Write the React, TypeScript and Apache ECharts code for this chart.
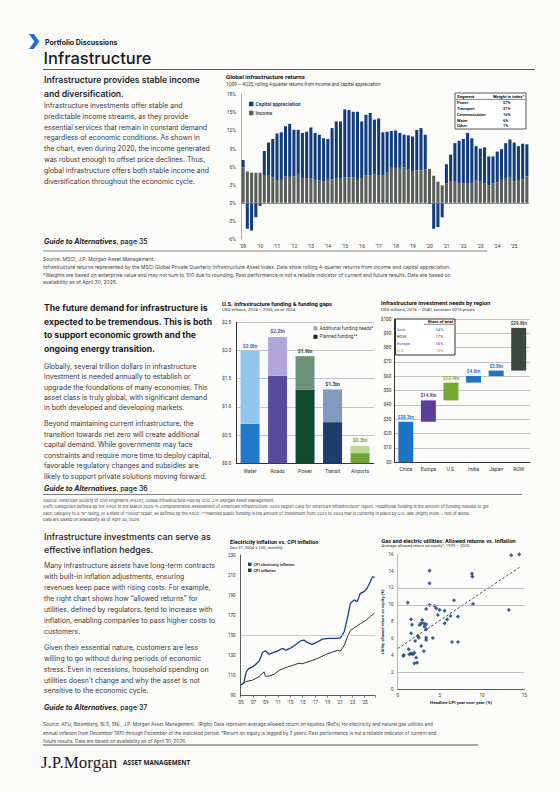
import React, { useEffect, useRef } from 'react';
import * as echarts from 'echarts';

const SANS = 'Inter, "Noto Sans", Arial, sans-serif';
const CH = 'Roboto, "Noto Sans", Arial, sans-serif';
const SERIF = '"Liberation Serif", "DejaVu Serif", serif';

// ---------- Global infrastructure returns (1Q09 - 4Q25) ----------
const returnYears = [2009, 2010, 2011, 2012, 2013, 2014, 2015, 2016, 2017, 2018, 2019, 2020, 2021, 2022, 2023, 2024, 2025];
const quarterCats: string[] = [];
returnYears.forEach((y) => { for (let q = 1; q <= 4; q++) quarterCats.push(q + 'Q' + String(y).slice(2)); });
const incomeReturns = [
  5.9, 5.2, 5.0, 5.0,
  5.0, 4.5, 4.5, 4.2,
  3.7, 3.8, 4.4, 4.3,
  4.4, 4.8, 4.1, 4.0,
  4.1, 3.8, 3.7, 3.6,
  3.8, 3.9, 4.0, 4.0,
  4.2, 4.2, 4.2, 3.8,
  4.1, 4.5, 4.6, 4.8,
  4.6, 4.5, 5.0, 5.8,
  5.8, 5.8, 5.9, 5.5,
  5.3, 5.4, 5.4, 5.5,
  5.6, 4.5, 3.5, 2.9,
  3.2, 3.6, 3.5, 3.3,
  3.2, 3.3, 3.3, 3.8,
  3.6, 3.2, 2.9, 3.2,
  3.4, 3.8, 4.0, 4.3,
  3.6, 3.8, 3.9, 4.4,
];
const capitalReturns = [
  1.2, -4.3, -4.6, -2.4,
  -0.5, 4.1, 5.5, 6.4,
  7.8, 7.9, 8.3, 8.8,
  7.7, 7.3, 7.5, 7.8,
  8.4, 7.8, 7.6, 7.1,
  6.8, 8.5, 9.5, 9.5,
  11.3, 11.2, 10.9, 11.3,
  9.4, 10.1, 10.3, 9.0,
  9.4, 7.2, 6.8, 6.1,
  6.2, 5.8, 5.4, 5.7,
  5.7, 6.7, 7.0, 5.8,
  -0.2, -4.3, -4.0, -2.4,
  3.2, 4.4, 6.4, 7.0,
  7.4, 8.3, 7.4, 5.6,
  5.4, 6.0, 4.8, 4.5,
  5.1, 5.1, 5.9, 6.2,
  6.4, 5.6, 5.9, 5.3,
];
const segmentNames = ['Power', 'Transport', 'Communication', 'Water', 'Other'];
const segmentWeights = ['57%', '21%', '16%', '6%', '1%'];

// ---------- U.S. infrastructure funding & gaps ----------
const fundingCats = ['Water', 'Roads', 'Power', 'Transit', 'Airports'];
const plannedFunding = [0.70, 1.55, 1.31, 0.73, 0.18];
const additionalFunding = [1.29, 0.69, 0.59, 0.58, 0.13];
const fundingLabels = ['$2.0tn', '$2.2tn', '$1.9tn', '$1.3tn', '$0.3tn'];

// ---------- Investment needs by region ----------
const regionCats = ['China', 'Europe', 'U.S.', 'India', 'Japan', 'ROW'];
const regionNeeds = [28.3, 14.9, 12.4, 4.6, 3.8, 29.8];
const shareNames = ['Asia', 'ROW', 'Europe', 'U.S.'];
const shareValues = ['54%', '17%', '16%', '13%'];

// ---------- Electricity vs CPI (Dec 31, 2004 = 100) ----------
const electricityCpi: [number, number][] = [
  [2005.0, 100.6], [2005.5, 102.5], [2005.75, 110], [2005.9, 113.7], [2006.3, 117], [2006.9, 118.7],
  [2007.4, 121], [2007.95, 124.3], [2008.3, 129], [2008.5, 133], [2009.0, 134.7], [2009.6, 131],
  [2010.1, 132.7], [2010.9, 134.3], [2011.7, 137], [2012.3, 135.3], [2013.1, 137.6], [2013.9, 140.9],
  [2014.7, 144.6], [2015.2, 145.3], [2015.7, 143], [2016.5, 141], [2017.4, 143.6], [2018.2, 146.3],
  [2019.2, 147], [2020.3, 147], [2021.1, 147.6], [2021.7, 153.6], [2022.2, 166.9], [2022.7, 181.9],
  [2023.3, 185.3], [2023.8, 183.6], [2024.3, 191.9], [2024.9, 193.6], [2025.4, 196.9], [2025.96, 204.2],
  [2026.3, 208.6], [2026.6, 207.6],
];
const headlineCpi: [number, number][] = [
  [2005.0, 100.6], [2005.8, 104], [2006.9, 105.5], [2007.95, 108.8], [2008.5, 112.4], [2008.8, 113.6],
  [2009.0, 109.3], [2009.6, 109.6], [2010.4, 111.4], [2011.2, 115.2], [2012.3, 118], [2013.3, 120],
  [2014.4, 122.4], [2014.9, 121.7], [2015.7, 123.4], [2016.5, 125], [2017.6, 127.6], [2018.7, 131],
  [2019.8, 133.4], [2020.6, 135], [2021.1, 134.4], [2021.7, 140], [2022.2, 148.3], [2022.7, 155],
  [2023.5, 158.3], [2024.3, 161.6], [2025.2, 165], [2025.96, 169], [2026.6, 172.3],
];

// ---------- Allowed returns vs inflation ----------
const roeVsCpi: [number, number][] = [
  [14.4, 16.0], [13.45, 15.9], [8.8, 13.7], [8.85, 13.35], [3.77, 14.06], [3.77, 12.55],
  [1.19, 10.26], [3.77, 9.98], [4.37, 9.86], [4.56, 9.58], [3.37, 9.5], [4.96, 9.39],
  [5.56, 9.3], [6.67, 10.53], [8.93, 10.1], [13.17, 9.39], [4.76, 8.79], [5.87, 8.28],
  [6.27, 8.67], [7.14, 8.6], [5.56, 7.8], [1.59, 8.28], [1.7, 7.64], [2.78, 7.8],
  [2.9, 8.2], [3.1, 7.8], [2.58, 7.6], [3.17, 7.4], [3.37, 7.68], [3.37, 7.09],
  [1.59, 6.61], [2.38, 6.3], [2.5, 6.1], [3.37, 6.1], [3.37, 5.82], [4.17, 6.06],
  [6.43, 5.58], [7.14, 5.58], [2.06, 5.7], [2.78, 5.1], [3.1, 4.5], [1.31, 4.71],
  [1.59, 4.24], [1.39, 4.12], [1.79, 4.12], [1.98, 4.32], [0.71, 4.04], [0.67, 3.92],
  [2.18, 3.72], [1.98, 3.05], [2.3, 3.13],
];
const trendLine: [number, number][] = [[0, 4.8], [14.5, 14.5]];

// ---------- styles ----------
const plannedColors = ['#2079c9', '#584b9d', '#0f4b2e', '#1d3e6d', '#6fa334'];
const additionalColors = ['#92c4ee', '#b1a6d9', '#6c927a', '#8299bf', '#bfd898'];
const fundingLabelColors = ['#1f6fc0', '#584b9d', '#1b4d30', '#1d3e6d', '#6fa334'];
const regionColors = ['#1f73c6', '#5a3e98', '#76a833', '#1f73c6', '#1f73c6', '#3b4740'];
const shareColors = ['#1f73c6', '#333333', '#5a3e98', '#76a833'];

const para1 = [
  'Infrastructure investments offer stable and',
  'predictable income streams, as they provide',
  'essential services that remain in constant demand',
  'regardless of economic conditions. As shown in',
  'the chart, even during 2020, the income generated',
  'was robust enough to offset price declines. Thus,',
  'global infrastructure offers both stable income and',
  'diversification throughout the economic cycle.',
];
const para2a = [
  'Globally, several trillion dollars in infrastructure',
  'investment is needed annually to establish or',
  'upgrade the foundations of many economies. This',
  'asset class is truly global, with significant demand',
  'in both developed and developing markets.',
];
const para2b = [
  'Beyond maintaining current infrastructure, the',
  'transition towards net zero will create additional',
  'capital demand. While governments may face',
  'constraints and require more time to deploy capital,',
  'favorable regulatory changes and subsidies are',
  'likely to support private solutions moving forward.',
];
const para3a = [
  'Many infrastructure assets have long-term contracts',
  'with built-in inflation adjustments, ensuring',
  'revenues keep pace with rising costs. For example,',
  'the right chart shows how \u201callowed returns\u201d for',
  'utilities, defined by regulators, tend to increase with',
  'inflation, enabling companies to pass higher costs to',
  'customers.',
];
const para3b = [
  'Given their essential nature, customers are less',
  'willing to go without during periods of economic',
  'stress. Even in recessions, household spending on',
  'utilities doesn\u2019t change and why the asset is not',
  'sensitive to the economic cycle.',
];

const BODY = 6.9;
const HEAD = 8.6;

function buildGraphics() {
  const g: any[] = [];
  const txt = (text: string, x: number, y: number, size: number, o: any = {}) => {
    g.push({
      type: 'text', x, y, silent: true, z: 100,
      style: {
        text, fontSize: size, fontFamily: o.family || SANS, fontWeight: o.weight || 'normal',
        fontStyle: o.style || 'normal', fill: o.color || '#333',
        textAlign: o.align || 'left', textVerticalAlign: 'middle',
        align: o.align || 'left', verticalAlign: 'middle',
        ...(o.rich ? { rich: o.rich } : {}),
      },
    });
  };
  const line = (x1: number, y1: number, x2: number, y2: number, stroke = '#555', w = 1) => {
    g.push({ type: 'line', silent: true, z: 100, shape: { x1, y1, x2, y2 }, style: { stroke, lineWidth: w } });
  };
  const guide = (page: string, y: number) => {
    txt('{a|Guide to Alternatives}{b|, page ' + page + '}', 44, y, 7, {
      rich: {
        a: { fontStyle: 'italic', fontWeight: 'bold', fontSize: 7, fontFamily: SANS, fill: '#222' },
        b: { fontWeight: 500, fontSize: 7, fontFamily: SANS, fill: '#222' },
      },
    });
  };

  // header
  g.push({ type: 'polygon', silent: true, z: 100, shape: { points: [[29, 34], [33.8, 34], [39.3, 41.5], [33.8, 49], [29, 49], [34.4, 41.5]] }, style: { fill: '#1b74c9' } });
  txt('Portfolio Discussions', 45, 42, 7, { weight: 'bold', color: '#222' });
  txt('Infrastructure', 43.5, 57.5, 16.5, { weight: 500, color: '#1a1a1a' });
  line(43, 69.5, 535, 69.5, '#555', 1);

  // section 1
  txt('Infrastructure provides stable income', 44, 80, HEAD, { weight: 600, color: '#1f1f1f' });
  txt('and diversification.', 44, 94, HEAD, { weight: 600, color: '#1f1f1f' });
  const y1 = [105.3, 116.3, 127, 137.7, 148.3, 159, 170, 181];
  para1.forEach((s, i) => txt(s, 44, y1[i], BODY, { color: '#3a3a3a' }));
  guide('35', 241);
  line(43, 251, 487, 251, '#666', 0.8);
  const f1 = [
    'Source: MSCI, J.P. Morgan Asset Management.',
    'Infrastructure returns represented by the MSCI Global Private Quarterly Infrastructure Asset Index. Data show rolling 4-quarter returns from income and capital appreciation.',
    '*Weights are based on enterprise value and may not sum to 100 due to rounding. Past performance is not a reliable indicator of current and future results. Data are based on',
    'availability as of April 30, 2026.',
  ];
  f1.forEach((s, i) => txt(s, 43, 259 + i * 7.8, 5, { color: '#444' }));

  // top chart title & table
  txt('Global infrastructure returns', 226, 77, 6.2, { weight: 'bold', family: CH, color: '#111' });
  txt('1Q09 \u2013 4Q25, rolling 4-quarter returns from income and capital appreciation', 226, 84.3, 4.6, { family: CH, color: '#333' });
  g.push({ type: 'rect', silent: true, z: 99, shape: { x: 455, y: 93, width: 71, height: 36 }, style: { fill: '#fff', stroke: '#333', lineWidth: 0.8 } });
  line(456, 99.4, 525, 99.4, '#333', 0.6);
  txt('Segment', 457, 96.6, 4.3, { weight: 'bold', family: CH, color: '#111' });
  txt('Weight in index*', 524.5, 96.6, 4.3, { weight: 'bold', family: CH, color: '#111', align: 'right' });
  segmentNames.forEach((s, i) => {
    txt(s, 457, 102.7 + i * 5.8, 4, { weight: 'bold', family: CH, color: '#222' });
    txt(segmentWeights[i], 503, 102.7 + i * 5.8, 4, { weight: 'bold', family: CH, color: '#222' });
  });

  // section 2
  const h2 = ['The future demand for infrastructure is', 'expected to be tremendous. This is both', 'to support economic growth and the', 'ongoing energy transition.'];
  h2.forEach((s, i) => txt(s, 44, 308.3 + i * 13.45, HEAD, { weight: 'bold', color: '#1a1a1a' }));
  const y2a = [366, 376.7, 387, 397.7, 407.7];
  para2a.forEach((s, i) => txt(s, 44, y2a[i], BODY, { color: '#3a3a3a' }));
  const y2b = [423.7, 434, 444.3, 455, 465.7, 476.5];
  para2b.forEach((s, i) => txt(s, 44, y2b[i], BODY, { color: '#3a3a3a' }));
  guide('36', 488.7);
  line(43, 494.5, 522, 494.5, '#666', 0.8);
  const f2 = [
    'Source: American Society of Civil Engineers (ASCE), Global Infrastructure Hub by G20, J.P. Morgan Asset Management.',
    '(Left) Categories defined by the ASCE in the March 2025 \u201cA Comprehensive Assessment of America\u2019s Infrastructure: 2025 Report Card for America\u2019s Infrastructure\u201d report. *Additional funding is the amount of funding needed to get',
    'each category to a \u201cB\u201d rating, or a state of \u201cGood\u201d repair, as defined by the ASCE. **Planned public funding is the amount of investment from 2024 to 2033 that is currently in place by U.S. law. (Right) ROW = rest of world.',
    'Data are based on availability as of April 30, 2026.',
  ];
  f2.forEach((s, i) => txt(s, 43, 500 + i * 6.6, 4.1, { color: '#444' }));

  // middle chart titles
  txt('U.S. infrastructure funding & funding gaps', 222, 304.3, 5.8, { weight: 'bold', family: CH, color: '#111' });
  txt('USD trillions, 2024 \u2013 2033, as of 2024', 222, 309.8, 4.4, { family: CH, color: '#333' });
  txt('Infrastructure investment needs by region', 381, 303.3, 5.8, { weight: 'bold', family: CH, color: '#111' });
  txt('USD trillions, 2016 \u2013 2040, constant 2015 prices', 381, 309.3, 4.4, { family: CH, color: '#333' });
  // share table
  g.push({ type: 'rect', silent: true, z: 99, shape: { x: 395.5, y: 319, width: 59.5, height: 36 }, style: { fill: '#fff', stroke: '#333', lineWidth: 1 } });
  txt('Share of total', 453, 321.4, 4.2, { weight: 'bold', family: CH, color: '#111', align: 'right' });
  line(424, 324.3, 454, 324.3, '#333', 0.6);
  shareNames.forEach((s, i) => {
    txt(s, 397, 329.3 + i * 7.2, 4.2, { family: CH, color: shareColors[i] });
    txt(shareValues[i], 435.5, 329.3 + i * 7.2, 4.2, { family: CH, color: shareColors[i] });
  });

  // section 3
  txt('Infrastructure investments can serve as', 44, 536, 8.8, { weight: 500, color: '#1a1a1a' });
  txt('effective inflation hedges.', 44, 549.3, 8.8, { weight: 500, color: '#1a1a1a' });
  const y3a = [565.7, 576.7, 587.3, 598, 609, 620.3, 631.3];
  para3a.forEach((s, i) => txt(s, 44, y3a[i], BODY, { color: '#3a3a3a' }));
  const y3b = [647.7, 658.3, 669, 680, 690.7];
  para3b.forEach((s, i) => txt(s, 44, y3b[i], BODY, { color: '#3a3a3a' }));
  guide('37', 707.7);
  const f3 = [
    'Source: AEU, Bloomberg, BLS, SNL, J.P. Morgan Asset Management.  (Right) Data represent average allowed return on equities (RoEs) for electricity and natural gas utilities and',
    'annual inflation from December 1970 through December of the indicated period. *Return on equity is lagged by 2 years. Past performance is not a reliable indicator of current and',
    'future results. Data are based on availability as of April 30, 2026.',
  ];
  f3.forEach((s, i) => txt(s, 43, 724.3 + i * 8.2, 4.7, { color: '#444' }));
  line(43, 745, 478, 745, '#555', 1);
  txt('J.P.Morgan', 41, 762, 17, { family: SERIF, color: '#1a1a1a' });
  txt('ASSET MANAGEMENT', 123, 762.8, 6.4, { weight: 'bold', family: '"Open Sans", Arial, sans-serif', color: '#1a1a1a' });

  // bottom chart titles
  txt('Electricity inflation vs. CPI inflation', 230, 541.7, 5.6, { weight: 'bold', family: CH, color: '#111' });
  txt('Dec 31, 2004 = 100, monthly', 230, 547.3, 4.2, { family: CH, color: '#333' });
  txt('Gas and electric utilities: Allowed returns vs. Inflation', 381.5, 540.7, 5.6, { weight: 'bold', family: CH, color: '#111' });
  txt('Average allowed return on equity*, 1970 \u2013 2025', 381.5, 545.9, 4.2, { family: CH, color: '#333' });
  return g;
}

const axisLbl = (size = 5) => ({ fontSize: size, color: '#333', fontFamily: CH });

export default function App() {
  const ref = useRef<HTMLDivElement>(null);
  useEffect(() => {
    if (!ref.current) return;
    const chart = echarts.init(ref.current, undefined, { renderer: 'svg' });
    const regionBase = regionNeeds.map((_, i) => regionNeeds.slice(0, i).reduce((a, b) => a + b, 0));

    const option: any = {
      animation: false,
      backgroundColor: '#fbfbfa',
      graphic: { elements: buildGraphics() },
      grid: [
        { left: 241, top: 94.3, width: 288, height: 144.7, containLabel: false, outerBoundsMode: 'none' },
        { left: 236.3, top: 322.3, width: 137.5, height: 141, containLabel: false, outerBoundsMode: 'none' },
        { left: 394.5, top: 319, width: 135.5, height: 143.3, containLabel: false, outerBoundsMode: 'none' },
        { left: 240.7, top: 555, width: 134.5, height: 140.7, containLabel: false, outerBoundsMode: 'none' },
        { left: 397.7, top: 554.3, width: 126.6, height: 134.7, containLabel: false, outerBoundsMode: 'none' },
      ],
      legend: [
        {
          orient: 'vertical', left: 244, top: 96.5, itemWidth: 4.5, itemHeight: 4.5, itemGap: 4, icon: 'rect',
          data: [
            { name: 'Capital appreciation', textStyle: { color: '#1c4587' } },
            { name: 'Income', textStyle: { color: '#555' } },
          ],
          textStyle: { fontSize: 5, fontWeight: 'bold', fontFamily: CH, padding: [0, 0, 0, -3] },
        },
        {
          orient: 'vertical', left: 308.5, top: 320.8, itemWidth: 4, itemHeight: 4, itemGap: 3.5, icon: 'rect',
          data: ['Additional funding needs*', 'Planned funding**'],
          textStyle: { fontSize: 4.7, color: '#333', fontFamily: CH, padding: [0, 0, 0, -3] },
        },
        {
          orient: 'vertical', left: 243, top: 557.3, itemWidth: 3.5, itemHeight: 3.5, itemGap: 2, icon: 'rect',
          data: ['CPI electricity inflation', 'CPI inflation'],
          textStyle: { fontSize: 4, fontWeight: 'bold', color: '#333', fontFamily: CH, padding: [0, 0, 0, -3] },
        },
      ],
      xAxis: [
        {
          gridIndex: 0, type: 'category', data: quarterCats,
          axisLine: { show: false }, axisTick: { show: false },
          axisLabel: { ...axisLbl(5), margin: 4, interval: (i: number) => i % 4 === 0, formatter: (v: string) => "'" + v.slice(2) },
        },
        {
          gridIndex: 1, type: 'category', data: fundingCats,
          axisLine: { lineStyle: { color: '#333', width: 1 } }, axisTick: { show: false },
          axisLabel: { ...axisLbl(5), margin: 5 },
        },
        {
          gridIndex: 2, type: 'category', data: regionCats,
          axisLine: { lineStyle: { color: '#333', width: 1 } }, axisTick: { show: false },
          axisLabel: { ...axisLbl(5), margin: 4.5 },
        },
        {
          gridIndex: 3, type: 'value', min: 2005, max: 2026.7, interval: 2,
          axisLine: { lineStyle: { color: '#333', width: 0.8 } }, axisTick: { show: true, length: 2, lineStyle: { color: '#333', width: 0.6 } },
          splitLine: { show: false },
          axisLabel: { ...axisLbl(4.6), margin: 4, formatter: (v: number) => (Number.isInteger(v) && v <= 2025 ? "'" + String(v).slice(2) : '') },
        },
        {
          gridIndex: 4, type: 'value', min: 0, max: 15, interval: 5,
          axisLine: { lineStyle: { color: '#333', width: 0.8 } }, axisTick: { show: false },
          splitLine: { show: false },
          axisLabel: { ...axisLbl(4.6), margin: 4 },
          name: 'Headline CPI year over year (%)', nameLocation: 'middle', nameGap: 11,
          nameTextStyle: { fontSize: 4.4, fontWeight: 'bold', color: '#222', fontFamily: CH },
        },
      ],
      yAxis: [
        {
          gridIndex: 0, type: 'value', min: -6, max: 18, interval: 3,
          axisLine: { show: true, lineStyle: { color: '#888', width: 0.7 } }, axisTick: { show: false },
          splitLine: { show: false },
          axisLabel: { ...axisLbl(5), margin: 5, formatter: '{value}%' },
        },
        {
          gridIndex: 1, type: 'value', min: 0, max: 2.5, interval: 0.5,
          axisLine: { show: true, lineStyle: { color: '#333', width: 1 } }, axisTick: { show: false },
          splitLine: { lineStyle: { color: '#b5b5b5', width: 0.8 } },
          axisLabel: { ...axisLbl(4.8), margin: 5, formatter: (v: number) => '$' + v.toFixed(1) },
        },
        {
          gridIndex: 2, type: 'value', min: 0, max: 100, interval: 10,
          axisLine: { show: true, lineStyle: { color: '#333', width: 1 } }, axisTick: { show: false },
          splitLine: { lineStyle: { color: '#b5b5b5', width: 0.8 } },
          axisLabel: { ...axisLbl(4.8), margin: 3, formatter: (v: number) => '$' + v },
        },
        {
          gridIndex: 3, type: 'value', min: 90, max: 230, interval: 20,
          axisLine: { show: true, lineStyle: { color: '#333', width: 0.8 } }, axisTick: { show: false },
          splitLine: { show: false },
          axisLabel: { ...axisLbl(4.6), margin: 5 },
        },
        {
          gridIndex: 4, type: 'value', min: 0, max: 16, interval: 2,
          axisLine: { show: true, lineStyle: { color: '#888', width: 0.6 } }, axisTick: { show: false },
          splitLine: { show: false },
          axisLabel: { ...axisLbl(4.6), margin: 4 },
          name: 'Utility allowed return on equity (%)', nameLocation: 'middle', nameGap: 10, nameRotate: 90,
          nameTextStyle: { fontSize: 4.2, fontWeight: 'bold', color: '#222', fontFamily: CH },
        },
      ],
      series: [
        // top
        {
          type: 'bar', name: 'Income', stack: 'ret', xAxisIndex: 0, yAxisIndex: 0, data: incomeReturns,
          itemStyle: { color: '#5a5e5b' }, barCategoryGap: '28%',
          markLine: { silent: true, symbol: 'none', label: { show: false }, lineStyle: { color: '#777', width: 0.8, type: 'solid' }, data: [{ yAxis: 0 }] },
        },
        {
          type: 'bar', name: 'Capital appreciation', stack: 'ret', xAxisIndex: 0, yAxisIndex: 0, data: capitalReturns,
          itemStyle: { color: '#123d7c' },
        },
        // middle left
        {
          type: 'bar', name: 'Planned funding**', stack: 'fund', xAxisIndex: 1, yAxisIndex: 1, barCategoryGap: '31%',
          itemStyle: { color: '#1b211d' },
          data: plannedFunding.map((v, i) => ({ value: v, itemStyle: { color: plannedColors[i] } })),
        },
        {
          type: 'bar', name: 'Additional funding needs*', stack: 'fund', xAxisIndex: 1, yAxisIndex: 1,
          itemStyle: { color: '#a3a3a3' },
          data: additionalFunding.map((v, i) => ({
            value: v,
            itemStyle: { color: additionalColors[i] },
            label: { color: fundingLabelColors[i] },
          })),
          label: {
            show: true, position: 'top', distance: 3, fontSize: 5, fontWeight: 'bold', fontFamily: CH,
            formatter: (p: any) => fundingLabels[p.dataIndex],
          },
        },
        // middle right waterfall
        {
          type: 'bar', name: 'base', stack: 'wf', xAxisIndex: 2, yAxisIndex: 2, barWidth: 15,
          itemStyle: { color: 'rgba(0,0,0,0)' }, silent: true, data: regionBase,
        },
        {
          type: 'bar', name: 'Needs', stack: 'wf', xAxisIndex: 2, yAxisIndex: 2, barWidth: 15,
          data: regionNeeds.map((v, i) => ({ value: v, itemStyle: { color: regionColors[i] }, label: { color: regionColors[i] } })),
          label: {
            show: true, position: 'top', distance: 2, fontSize: 4.6, fontWeight: 'bold', fontFamily: CH,
            formatter: (p: any) => '$' + Number(p.value).toFixed(1) + 'tn',
          },
        },
        // bottom left
        {
          type: 'line', name: 'CPI inflation', xAxisIndex: 3, yAxisIndex: 3, data: headlineCpi,
          symbol: 'none', lineStyle: { color: '#333', width: 1 }, itemStyle: { color: '#333' },
          markLine: { silent: true, symbol: 'none', label: { show: false }, lineStyle: { color: '#c4c4c4', width: 0.8, type: 'solid' }, data: [{ yAxis: 150 }] },
        },
        {
          type: 'line', name: 'CPI electricity inflation', xAxisIndex: 3, yAxisIndex: 3, data: electricityCpi,
          symbol: 'none', lineStyle: { color: '#1d3f86', width: 1.3 }, itemStyle: { color: '#1d3f86' },
        },
        // bottom right
        {
          type: 'scatter', name: 'RoE', xAxisIndex: 4, yAxisIndex: 4, data: roeVsCpi,
          symbol: 'diamond', symbolSize: 4.2, itemStyle: { color: '#15396f' },
          markLine: { silent: true, symbol: 'none', label: { show: false }, lineStyle: { color: '#b0b0b0', width: 0.8, type: 'solid' }, data: [{ yAxis: 2 }, { yAxis: 10 }, { yAxis: 12 }] },
        },
        {
          type: 'line', name: 'Trend', xAxisIndex: 4, yAxisIndex: 4, data: trendLine,
          symbol: 'none', lineStyle: { color: '#333', width: 0.9, type: [2.5, 2] },
        },
      ],
    };
    chart.setOption(option);
    return () => chart.dispose();
  }, []);
  return (
    <div style={{ position: 'absolute', left: 0, top: 0, width: 560, height: 792, background: '#fbfbfa' }}>
      <div ref={ref} style={{ width: 560, height: 792 }} />
    </div>
  );
}
